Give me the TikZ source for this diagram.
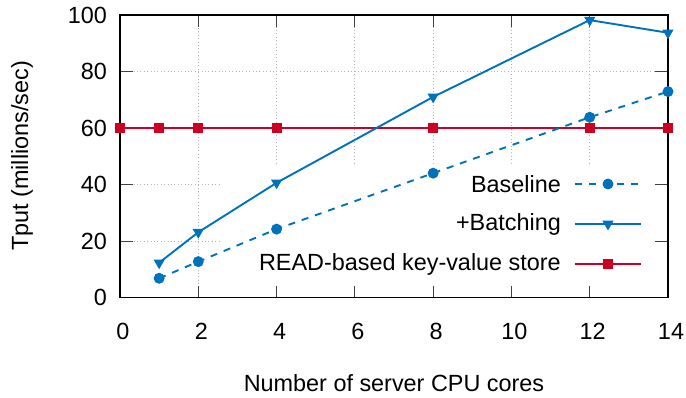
\documentclass[tikz,border=0pt]{standalone}
\usepackage{fontspec}
\setmainfont{Liberation Sans}
\usetikzlibrary{shapes.geometric}
\definecolor{pblue}{RGB}{0,114,187}
\definecolor{pred}{RGB}{204,0,34}
\tikzset{
  lbl/.style={font=\fontsize{23.4}{26}\selectfont, inner sep=0pt},
  gridline/.style={gray!60, line width=0.8pt, dash pattern=on 0.8pt off 2.6pt},
  tickline/.style={black!75, line width=1pt},
  dot/.style={circle, fill=pblue, inner sep=0pt, minimum size=11pt},
  tri/.style={regular polygon, regular polygon sides=3, shape border rotate=180, fill=pblue, inner sep=0pt, minimum size=13pt},
  sq/.style={rectangle, fill=pred, inner sep=0pt, minimum size=10pt},
  baseln/.style={pblue, line width=1.9pt, dash pattern=on 7pt off 7pt},
  batchln/.style={pblue, line width=1.9pt},
  readln/.style={pred, line width=1.9pt}
}
\begin{document}
\begin{tikzpicture}[x=1pt,y=1pt]
\useasboundingbox (0,0) rectangle (686,397);
\begin{scope}[shift={(120pt,99.5pt)}, x=39.143pt, y=2.825pt]
  % grid
  \draw[gridline] (2,0) -- (2,100);
  \foreach \gx in {4,6,8,10,12} \draw[gridline] (\gx,47.5) -- (\gx,100);
  \foreach \gy in {20,40} \draw[gridline] (0,\gy) -- (2.57,\gy);
  \foreach \gy in {60,80} \draw[gridline] (0,\gy) -- (14,\gy);
  % ticks
  \foreach \gx in {2,4,6,8,10,12} {
    \draw[tickline] (\gx,0) -- ++(0,12pt);
    \draw[tickline] (\gx,100) -- ++(0,-12pt);
  }
  \foreach \gy in {20,40,60,80} {
    \draw[tickline] (0,\gy) -- ++(13pt,0);
    \draw[tickline] (14,\gy) -- ++(-13pt,0);
  }
  % frame
  \draw[black, line width=1.3pt] (0,0) rectangle (14,100);
  % tick labels
  \foreach \gx in {0,2,4,6,8,10,12,14}
    \node[lbl] (xl\gx) at ([xshift=3pt,yshift=-34pt]\gx,0) {\gx};
  \foreach \gy in {0,20,40,60,80,100}
    \node[lbl, anchor=east] (yl\gy) at ([xshift=-13pt]0,\gy) {\gy};
  % data
  \draw[readln] (0,60) -- (1,60) -- (2,60) -- (4,60) -- (8,60) -- (12,60) -- (14,60);
  \draw[baseln] (1,6.8) -- (2,12.7) -- (4,24.2) -- (8,44) -- (12,63.8) -- (14,72.9);
  \draw[batchln] (1,12.3) -- (2,23.1) -- (4,40.6) -- (8,71) -- (12,98.2) -- (14,93.7);
  \foreach \px/\py in {1/6.8,2/12.7,4/24.2,8/44,12/63.8,14/72.9}
    \node[dot] at (\px,\py) {};
  \foreach \px/\py in {1/12.3,2/23.1,4/40.6,8/71,12/98.2,14/93.7}
    \node[tri] at (\px,\py) {};
  \foreach \px in {0,1,2,4,8,12,14}
    \node[sq] at (\px,60) {};
\end{scope}
% legend
\node[lbl, anchor=east] (k1) at (561,213) {Baseline};
\node[lbl, anchor=east] (k2) at (561,173) {+Batching};
\node[lbl, anchor=east] (k3) at (561,133) {READ-based key-value store};
\coordinate (k1a) at (575,213); \coordinate (k1b) at (641,213);
\coordinate (k2a) at (575,173); \coordinate (k2b) at (641,173);
\coordinate (k3a) at (575,133); \coordinate (k3b) at (641,133);
\draw[baseln] (k1a) -- (k1b);
\node[dot] at (608,213) {};
\draw[batchln] (k2a) -- (k2b);
\node[tri] at (608,173) {};
\draw[readln] (k3a) -- (k3b);
\node[sq] at (608,133) {};
% axis titles
\node[lbl] (xt) at (394,14) {Number of server CPU cores};
\node[lbl, rotate=90] (yt) at (22,241) {Tput (millions/sec)};
\end{tikzpicture}
\end{document}
